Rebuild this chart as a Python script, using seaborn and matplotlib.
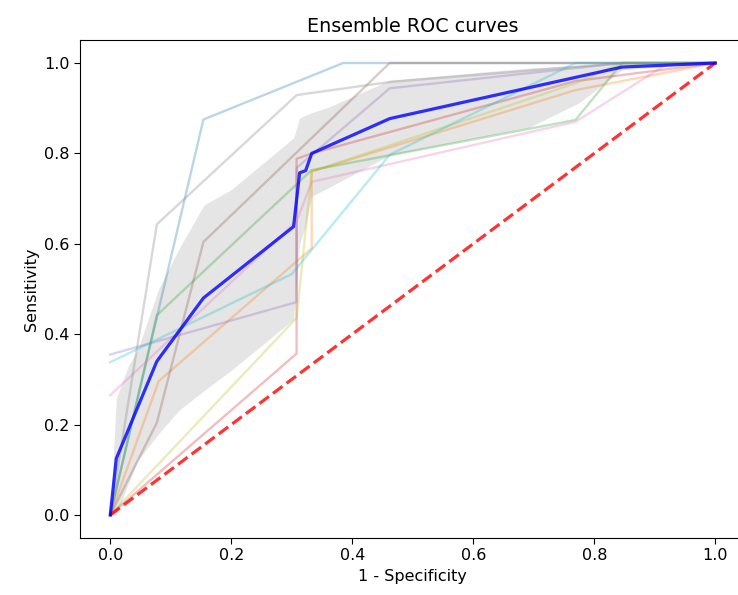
import numpy as np
import pandas as pd
import matplotlib
matplotlib.use("Agg")
import matplotlib.pyplot as plt
import seaborn as sns

# per-model ROC points (fpr, tpr)
fpr_c0 = [0.0, 0.154, 0.385, 1.0]
tpr_c0 = [0.0, 0.875, 1.0, 1.0]
fpr_c1 = [0.0, 0.080, 0.333, 0.333, 0.769, 1.0]
tpr_c1 = [0.0, 0.296, 0.590, 0.760, 0.940, 1.0]
fpr_c2 = [0.0, 0.077, 0.333, 0.769, 0.846, 1.0]
tpr_c2 = [0.0, 0.442, 0.763, 0.874, 1.0, 1.0]
fpr_c3 = [0.0, 0.308, 0.308, 0.333, 0.769, 1.0]
tpr_c3 = [0.0, 0.357, 0.788, 0.800, 0.960, 1.0]
fpr_c4 = [0.0, 0.308, 0.308, 0.462, 0.846, 1.0]
tpr_c4 = [0.355, 0.471, 0.768, 0.944, 1.0, 1.0]
fpr_c5 = [0.0, 0.077, 0.154, 0.462, 1.0]
tpr_c5 = [0.0, 0.204, 0.604, 1.0, 1.0]
fpr_c6 = [0.0, 0.308, 0.333, 0.769, 0.923, 1.0]
tpr_c6 = [0.265, 0.650, 0.737, 0.870, 1.0, 1.0]
fpr_c7 = [0.0, 0.077, 0.308, 0.462, 0.846, 1.0]
tpr_c7 = [0.0, 0.643, 0.929, 0.958, 1.0, 1.0]
fpr_c8 = [0.0, 0.308, 0.333, 0.769, 0.846, 1.0]
tpr_c8 = [0.0, 0.436, 0.760, 0.955, 1.0, 1.0]
fpr_c9 = [0.0, 0.300, 0.462, 0.769, 1.0]
tpr_c9 = [0.338, 0.533, 0.797, 1.0, 1.0]

# mean curve and +/- 1 std band
mean_fpr = [0.0, 0.010, 0.077, 0.154, 0.303, 0.313, 0.323, 0.333, 0.462, 0.846, 1.0]
mean_tpr = [0.0, 0.125, 0.340, 0.480, 0.638, 0.757, 0.762, 0.800, 0.877, 0.991, 1.0]

band_x = [0.0, 0.010, 0.030, 0.045, 0.080, 0.114, 0.155, 0.200, 0.303, 0.313, 0.323,
          0.333, 0.362, 0.462, 0.693, 0.775, 0.846, 1.0]
band_hi = [0.0, 0.258, 0.330, 0.365, 0.500, 0.590, 0.686, 0.720, 0.834, 0.878, 0.885,
           0.890, 0.903, 0.962, 0.989, 0.995, 1.0, 1.0]
band_lo = [0.0, 0.0, 0.070, 0.120, 0.180, 0.232, 0.275, 0.320, 0.433, 0.600, 0.640,
           0.705, 0.725, 0.796, 0.858, 0.912, 0.985, 1.0]

curves = [(fpr_c0, tpr_c0), (fpr_c1, tpr_c1), (fpr_c2, tpr_c2), (fpr_c3, tpr_c3),
          (fpr_c4, tpr_c4), (fpr_c5, tpr_c5), (fpr_c6, tpr_c6), (fpr_c7, tpr_c7),
          (fpr_c8, tpr_c8), (fpr_c9, tpr_c9)]

# reference looks like a slightly upscaled render -> bump text a bit
plt.rcParams['font.size'] = 11.5
plt.rcParams['xtick.major.size'] = 4
plt.rcParams['ytick.major.size'] = 4

fig = plt.figure(figsize=(7.38, 5.95), dpi=100)
ax = fig.add_axes([80 / 738, 57.4 / 595, 665.5 / 738, 497.2 / 595])

palette = sns.color_palette("tab10", 10)
for i, (f, t) in enumerate(curves):
    sns.lineplot(x=f, y=t, sort=False, estimator=None, color=palette[i],
                 alpha=0.3, lw=1.7, ax=ax)

# chance line
sns.lineplot(x=[0, 1], y=[0, 1], sort=False, estimator=None, color="red",
             linestyle="--", lw=2.3, alpha=0.8, ax=ax)

sns.lineplot(x=mean_fpr, y=mean_tpr, sort=False, estimator=None, color="blue",
             lw=2.3, alpha=0.8, ax=ax)
ax.fill_between(band_x, band_lo, band_hi, color="grey", alpha=0.2, lw=0)

ax.set_xlim(-0.05, 1.05)
ax.set_ylim(-0.05, 1.05)
ax.set_xlabel("1 - Specificity")
ax.set_ylabel("Sensitivity")
ax.set_title("Ensemble ROC curves")

fig.savefig("out.png", dpi=100)
